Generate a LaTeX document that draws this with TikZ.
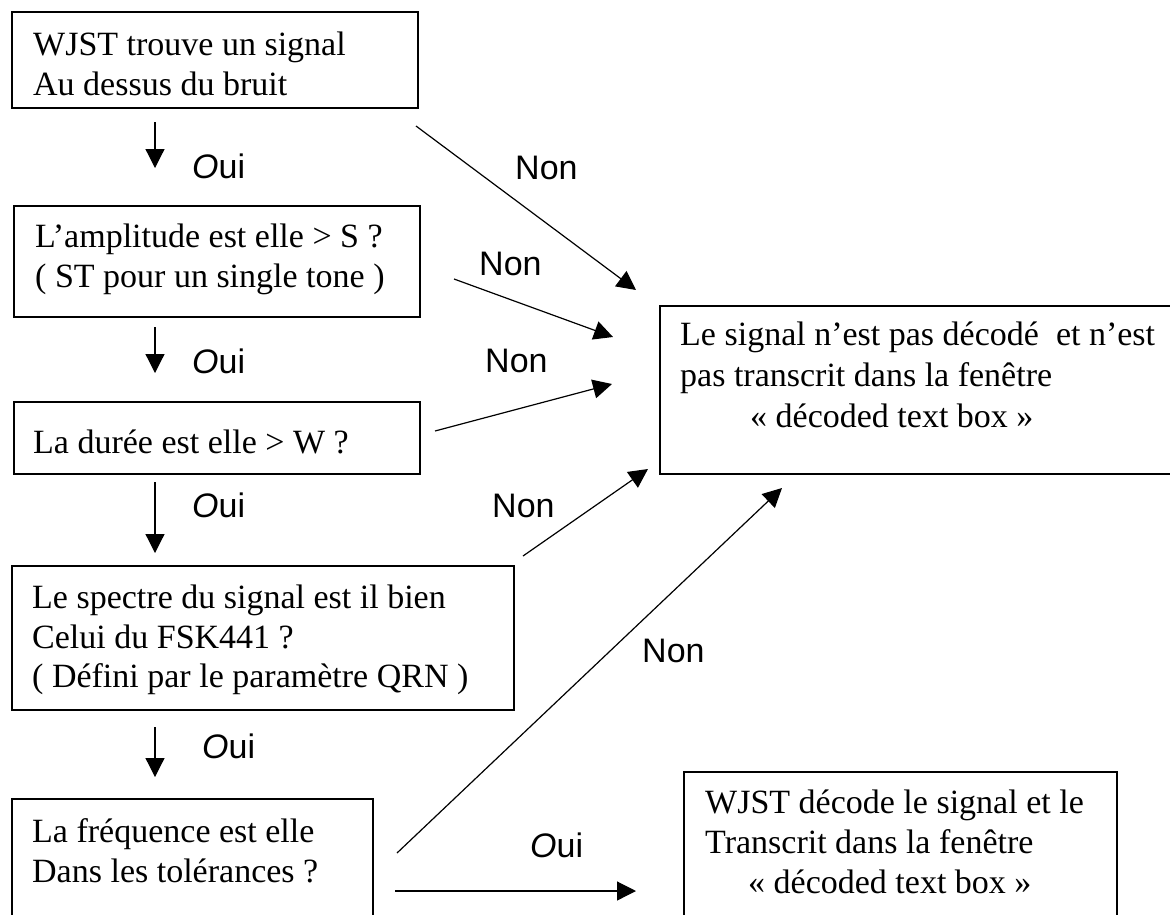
\documentclass[tikz,border=0pt]{standalone}
\usepackage{fontspec}
\setmainfont{Liberation Serif}
\newfontfamily\labfont{Liberation Sans}
\usetikzlibrary{arrows.meta}
\begin{document}
\begin{tikzpicture}[x=1pt,y=-1pt,
  box/.style={draw, line width=1.6pt, inner sep=0pt, anchor=north west},
  txt/.style={inner sep=0pt, anchor=base west, font=\fontsize{34}{40}\selectfont},
  oui/.style={inner sep=0pt, anchor=base west, font=\labfont\fontsize{34}{38}\selectfont},
  non/.style={inner sep=0pt, anchor=base west, font=\labfont\fontsize{34}{38}\selectfont},
  arr/.style={line width=1.2pt, -{Triangle[length=19pt,width=19pt]}}]
\useasboundingbox (0,0) rectangle (1170,914);
\clip (0,0) rectangle (1170,914);

% boxes
\node[box, minimum width=406pt, minimum height=96pt] (b1) at (11,11) {};
\node[box, minimum width=406pt, minimum height=111pt] (b2) at (13,205) {};
\node[box, minimum width=406pt, minimum height=72pt] (b3) at (13,401) {};
\node[box, minimum width=502pt, minimum height=144pt] (b4) at (11,565) {};
\node[box, minimum width=361pt, minimum height=140pt] (b5) at (11,798) {};
\node[box, minimum width=520pt, minimum height=168pt] (b6) at (659,305) {};
\node[box, minimum width=433pt, minimum height=160pt] (b7) at (683,771) {};

% texts
\node[txt] (t11) at (33,55) {WJST trouve un signal};
\node[txt] (t12) at (33,95) {Au dessus du bruit};
\node[txt] (t21) at (35,247) {L’amplitude est elle > S ?};
\node[txt] (t22) at (35,287) {( ST pour un single tone )};
\node[txt] (t31) at (33,453) {La durée est elle > W ?};
\node[txt] (t41) at (32,608) {Le spectre du signal est il bien};
\node[txt] (t42) at (32,648) {Celui du FSK441 ?};
\node[txt] (t43) at (32,687) {( Défini par le paramètre QRN )};
\node[txt] (t51) at (32,842) {La fréquence est elle};
\node[txt] (t52) at (32,882) {Dans les tolérances ?};
\node[txt] (t61) at (680,345) {Le signal n’est pas décodé\ \ et n’est};
\node[txt] (t62) at (680,386) {pas transcrit dans la fenêtre};
\node[txt] (t63) at (750,427) {« décoded text box »};
\node[txt] (t71) at (705,813) {WJST décode le signal et le};
\node[txt] (t72) at (705,853) {Transcrit dans la fenêtre};
\node[txt] (t73) at (748,893) {« décoded text box »};

% arrow end points
\coordinate (a1s) at (155,122); \coordinate (a1e) at (155,168);
\coordinate (a2s) at (155,327); \coordinate (a2e) at (155,373);
\coordinate (a3s) at (155,482); \coordinate (a3e) at (155,553);
\coordinate (a4s) at (155,727); \coordinate (a4e) at (155,777);
\coordinate (a5s) at (395,891); \coordinate (a5e) at (636,891);
\coordinate (n1s) at (416,126); \coordinate (n1e) at (636,290);
\coordinate (n2s) at (454,279); \coordinate (n2e) at (613,337);
\coordinate (n3s) at (435,431); \coordinate (n3e) at (612,384);
\coordinate (n4s) at (523,556); \coordinate (n4e) at (648,469);
\coordinate (n5s) at (397,853); \coordinate (n5e) at (782,488);

\draw[arr] (a1s) -- (a1e);
\draw[arr] (a2s) -- (a2e);
\draw[arr] (a3s) -- (a3e);
\draw[arr] (a4s) -- (a4e);
\draw[arr] (a5s) -- (a5e);
\draw[arr] (n1s) -- (n1e);
\draw[arr] (n2s) -- (n2e);
\draw[arr] (n3s) -- (n3e);
\draw[arr] (n4s) -- (n4e);
\draw[arr] (n5s) -- (n5e);

% labels
\node[oui] (o1) at (192,178) {{\itshape O}ui};
\node[oui] (o2) at (192,373) {{\itshape O}ui};
\node[oui] (o3) at (192,517) {{\itshape O}ui};
\node[oui] (o4) at (202,758) {{\itshape O}ui};
\node[oui] (o5) at (530,857) {{\itshape O}ui};
\node[non] (l1) at (515,179) {Non};
\node[non] (l2) at (479,275) {Non};
\node[non] (l3) at (485,372) {Non};
\node[non] (l4) at (492,517) {Non};
\node[non] (l5) at (642,662) {Non};
\end{tikzpicture}
\end{document}
